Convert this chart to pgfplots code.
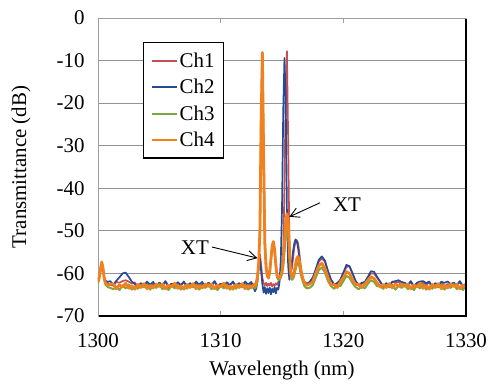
\documentclass[border=0pt]{standalone}
\usepackage{pgfplots}
\pgfplotsset{compat=1.18}
\usepackage{pgfplotstable}
\usepackage{fontspec}
\setmainfont{Liberation Serif}
\usetikzlibrary{arrows.meta}
\definecolor{cone}{RGB}{200,78,82}
\definecolor{ctwo}{RGB}{35,75,150}
\definecolor{cthree}{RGB}{122,168,62}
\definecolor{cfour}{RGB}{243,128,30}
\pgfplotstableread{
x O G R B
1300.0 -62.0 -62.3 -61.8 -61.6
1300.1 -61.0 -61.2 -60.8 -60.6
1300.2 -59.0 -59.3 -59.2 -59.0
1300.3 -57.3 -57.6 -57.8 -57.8
1300.4 -58.5 -58.8 -58.9 -59.0
1300.5 -61.0 -61.3 -61.0 -60.8
1300.6 -62.2 -62.6 -61.9 -61.7
1300.8 -62.8 -63.2 -62.4 -62.0
1301.0 -62.5 -63.4 -62.7 -61.8
1301.25 -62.5 -63.7 -62.9 -62.7
1301.5 -63.6 -63.1 -62.0 -61.7
1301.75 -62.7 -63.9 -62.2 -60.9
1302.0 -63.2 -62.8 -61.8 -60.0
1302.25 -62.3 -63.5 -61.6 -59.8
1302.5 -63.5 -62.6 -61.9 -60.8
1302.75 -62.9 -63.8 -62.4 -61.9
1303.0 -63.7 -63.0 -62.1 -62.5
1303.25 -62.6 -63.6 -63.2 -63.1
1303.5 -63.3 -62.7 -62.3 -62.3
1303.75 -62.4 -63.3 -62.8 -62.9
1304.0 -63.6 -62.7 -61.9 -62.0
1304.25 -62.8 -63.8 -63.1 -62.6
1304.5 -63.4 -62.9 -62.5 -62.0
1304.75 -62.5 -63.4 -63.3 -63.1
1305.0 -63.1 -62.5 -62.2 -62.2
1305.25 -62.5 -63.7 -62.9 -62.7
1305.5 -63.6 -63.1 -62.0 -61.8
1305.75 -62.7 -63.9 -63.2 -63.0
1306.0 -63.2 -62.8 -62.4 -62.4
1306.25 -62.3 -63.5 -63.0 -63.2
1306.5 -63.5 -62.6 -62.1 -62.1
1306.75 -62.9 -63.8 -62.7 -62.8
1307.0 -63.7 -63.0 -62.1 -61.9
1307.25 -62.6 -63.6 -63.2 -63.1
1307.5 -63.3 -62.7 -62.3 -62.3
1307.75 -62.4 -63.3 -62.8 -62.9
1308.0 -63.6 -62.7 -61.9 -62.0
1308.25 -62.8 -63.8 -63.1 -62.6
1308.5 -63.4 -62.9 -62.5 -62.0
1308.75 -62.5 -63.4 -63.3 -63.1
1309.0 -63.1 -62.5 -62.2 -62.2
1309.25 -62.5 -63.7 -62.9 -62.7
1309.5 -63.6 -63.1 -62.0 -61.8
1309.75 -62.7 -63.9 -63.2 -63.0
1310.0 -63.2 -62.8 -62.4 -62.4
1310.25 -62.3 -63.5 -63.0 -63.2
1310.5 -63.5 -62.6 -62.1 -62.1
1310.75 -62.9 -63.8 -62.7 -62.8
1311.0 -63.7 -63.0 -62.1 -61.9
1311.25 -62.6 -63.6 -63.2 -63.1
1311.5 -63.3 -62.7 -62.3 -62.3
1311.75 -62.4 -63.3 -62.8 -62.9
1312.0 -63.6 -62.7 -61.9 -62.0
1312.25 -62.8 -63.8 -63.1 -62.6
1312.5 -63.4 -62.9 -62.5 -62.0
1312.75 -62.5 -63.4 -63.3 -63.8
1312.8 -62.9 -63.5 -62.6 -64.2
1312.9 -62.2 -63.0 -62.3 -63.5
1313.0 -60.8 -61.5 -60.8 -62.0
1313.1 -57.5 -58.0 -57.8 -58.5
1313.2 -50.0 -51.0 -55.5 -56.5
1313.3 -24.0 -22.0 -58.0 -59.5
1313.4 -8.2 -8.0 -61.0 -62.5
1313.5 -32.0 -30.0 -62.3 -64.5
1313.6 -53.0 -52.0 -62.8 -63.2
1313.7 -58.5 -58.0 -62.2 -64.8
1313.8 -60.6 -60.5 -63.0 -63.5
1313.9 -61.0 -61.2 -62.4 -64.6
1314.0 -59.5 -60.0 -62.8 -63.3
1314.1 -56.5 -57.0 -62.2 -64.9
1314.2 -53.5 -54.0 -63.1 -63.6
1314.3 -52.5 -52.8 -62.5 -64.4
1314.4 -54.5 -55.0 -62.9 -63.2
1314.5 -58.0 -58.5 -62.3 -64.7
1314.6 -60.5 -61.0 -62.7 -63.4
1314.7 -61.0 -61.5 -62.0 -63.8
1314.8 -61.0 -61.5 -61.5 -62.0
1314.9 -60.5 -61.0 -60.5 -57.0
1315.0 -59.5 -60.2 -58.5 -45.0
1315.1 -57.0 -58.5 -55.0 -22.0
1315.2 -53.0 -55.0 -40.0 -9.4
1315.3 -48.5 -51.5 -18.0 -19.0
1315.4 -46.0 -50.0 -7.8 -45.0
1315.5 -47.0 -51.0 -28.0 -58.0
1315.6 -54.0 -56.0 -52.0 -61.5
1315.7 -59.5 -60.5 -59.5 -60.0
1315.8 -61.0 -61.5 -59.0 -57.5
1315.9 -60.5 -61.2 -56.5 -54.8
1316.0 -59.5 -60.5 -54.0 -53.0
1316.1 -58.0 -59.2 -52.6 -52.0
1316.2 -56.5 -58.0 -52.2 -52.4
1316.3 -56.0 -57.5 -52.8 -53.8
1316.4 -56.8 -58.2 -54.8 -56.0
1316.5 -58.5 -59.8 -57.5 -58.5
1316.6 -60.0 -61.0 -60.0 -60.5
1316.7 -61.2 -62.0 -61.2 -61.5
1316.8 -62.0 -62.8 -61.8 -62.0
1316.9 -62.5 -63.2 -62.1 -62.3
1317.0 -62.8 -63.5 -62.3 -62.5
1317.25 -62.5 -63.4 -62.3 -62.0
1317.5 -62.0 -62.8 -61.5 -61.0
1317.75 -60.0 -61.0 -59.5 -59.0
1318.0 -58.2 -59.2 -57.2 -56.8
1318.25 -57.6 -58.6 -56.5 -56.0
1318.5 -58.8 -59.8 -57.2 -57.0
1318.75 -61.0 -61.8 -59.5 -59.5
1319.0 -62.8 -63.0 -61.5 -61.5
1319.25 -62.6 -63.6 -62.6 -62.6
1319.5 -63.3 -62.7 -62.3 -62.3
1319.75 -62.0 -63.0 -61.8 -61.5
1320.0 -61.0 -61.8 -60.0 -59.8
1320.25 -59.6 -60.6 -58.5 -58.0
1320.5 -60.0 -61.0 -58.3 -58.3
1320.75 -61.5 -62.3 -60.0 -60.0
1321.0 -62.6 -63.2 -61.8 -61.8
1321.25 -62.5 -63.7 -62.9 -62.7
1321.5 -63.3 -63.1 -62.4 -62.2
1321.75 -62.5 -63.5 -62.2 -62.0
1322.0 -61.6 -62.4 -61.0 -60.8
1322.25 -60.8 -61.6 -60.0 -59.5
1322.5 -61.2 -62.0 -60.0 -59.6
1322.75 -62.2 -63.0 -61.0 -60.8
1323.0 -63.2 -63.0 -62.0 -61.9
1323.25 -62.6 -63.6 -63.2 -63.1
1323.5 -63.3 -62.7 -62.3 -62.3
1323.75 -62.4 -63.3 -62.8 -62.9
1324.0 -63.4 -62.7 -61.9 -62.0
1324.25 -62.5 -63.8 -62.2 -61.8
1324.5 -63.0 -62.9 -62.0 -61.6
1324.75 -62.5 -63.4 -62.6 -62.0
1325.0 -63.1 -62.5 -62.2 -62.2
1325.25 -62.5 -63.7 -62.9 -62.7
1325.5 -63.6 -63.1 -62.0 -61.8
1325.75 -62.7 -63.9 -63.2 -63.0
1326.0 -63.2 -62.8 -62.4 -62.2
1326.25 -62.3 -63.5 -62.5 -61.9
1326.5 -63.5 -62.6 -62.1 -61.8
1326.75 -62.9 -63.8 -62.7 -62.3
1327.0 -63.7 -63.0 -62.1 -61.9
1327.25 -62.6 -63.6 -63.2 -63.1
1327.5 -63.3 -62.7 -62.3 -62.3
1327.75 -62.4 -63.3 -62.8 -62.9
1328.0 -63.6 -62.7 -61.9 -62.0
1328.25 -62.8 -63.8 -63.1 -62.2
1328.5 -63.4 -62.9 -62.5 -61.9
1328.75 -62.5 -63.4 -63.3 -62.5
1329.0 -63.1 -62.5 -62.2 -62.2
1329.25 -62.5 -63.7 -62.9 -62.7
1329.5 -63.6 -63.1 -62.0 -61.8
1329.75 -62.7 -63.9 -63.2 -63.0
1330.0 -63.2 -62.8 -62.4 -62.4
}\spectra
\begin{document}
\begin{tikzpicture}
\begin{axis}[
  scale only axis, width=368bp, height=298bp,
  xmin=1300, xmax=1330, ymin=-70, ymax=0,
  xtick={1300,1310,1320,1330}, ytick={-70,-60,-50,-40,-30,-20,-10,0},
  ymajorgrids, grid style={draw=gray!85, line width=0.9pt},
  axis line style={draw=gray!75, line width=1pt},
  xtick pos=both, xticklabel pos=lower,
  ytick style={draw=none}, xtick style={draw=gray!75, line width=1pt},
  major tick length=5bp,
  /pgf/number format/assume math mode=true,
  /pgf/number format/1000 sep={},
  tick label style={font=\fontsize{21}{24}\selectfont},
  yticklabel style={xshift=-10bp},
  xticklabel style={yshift=-14bp},
  xlabel={Wavelength (nm)}, ylabel={Transmittance (dB)},
  every axis x label/.style={at={([yshift=-54bp]axis description cs:0.5,0)}, anchor=center, font=\fontsize{21}{24}\selectfont},
  every axis y label/.style={at={([xshift=-77bp]axis description cs:0,0.5)}, rotate=90, anchor=center, font=\fontsize{21}{24}\selectfont},
  legend cell align=left,
  legend style={at={(axis description cs:0.1223,0.9195)}, anchor=north west,
    draw=black, line width=1.2pt, fill=white,
    font=\fontsize{21}{24}\selectfont, row sep=6.5bp,
    inner xsep=7bp, inner ysep=8bp,
    /tikz/every even column/.append style={column sep=9bp}},
  legend image code/.code={\draw[#1, line width=2pt] (0bp,0bp) -- (25bp,0bp);},
  every axis plot/.append style={line width=1.7pt, line join=round},
]
\addplot[cone] table[x=x,y=R] {\spectra};
\addlegendentry{Ch1}
\addplot[ctwo] table[x=x,y=B] {\spectra};
\addlegendentry{Ch2}
\addplot[cthree, line width=2pt] table[x=x,y=G] {\spectra};
\addlegendentry{Ch3}
\addplot[cfour, line width=2.8pt] table[x=x,y=O] {\spectra};
\addlegendentry{Ch4}
\node[font=\fontsize{21}{24}\selectfont] at (axis cs:1320.3,-43.9) {XT};
\node[font=\fontsize{21}{24}\selectfont] at (axis cs:1307.9,-54.0) {XT};
\draw[black, line width=0.9pt, -{Straight Barb[length=9bp,width=10bp]}] (axis cs:1318.1,-43.4) -- (axis cs:1315.6,-46.7);
\draw[black, line width=0.9pt, -{Straight Barb[length=9bp,width=10bp]}] (axis cs:1309.3,-53.8) -- (axis cs:1313.0,-56.4);
\coordinate (sw) at (rel axis cs:0,0);
\coordinate (se) at (rel axis cs:1,0);
\coordinate (ne) at (rel axis cs:1,1);
\end{axis}
\draw[black, line width=2pt] ([xshift=1bp]sw) -- (se) -- ([yshift=-1bp]ne);
\pgfresetboundingbox
\path[use as bounding box] ([shift={(-98bp,-74bp)}]sw) rectangle ([shift={(22bp,18bp)}]ne);
\end{tikzpicture}
\end{document}
